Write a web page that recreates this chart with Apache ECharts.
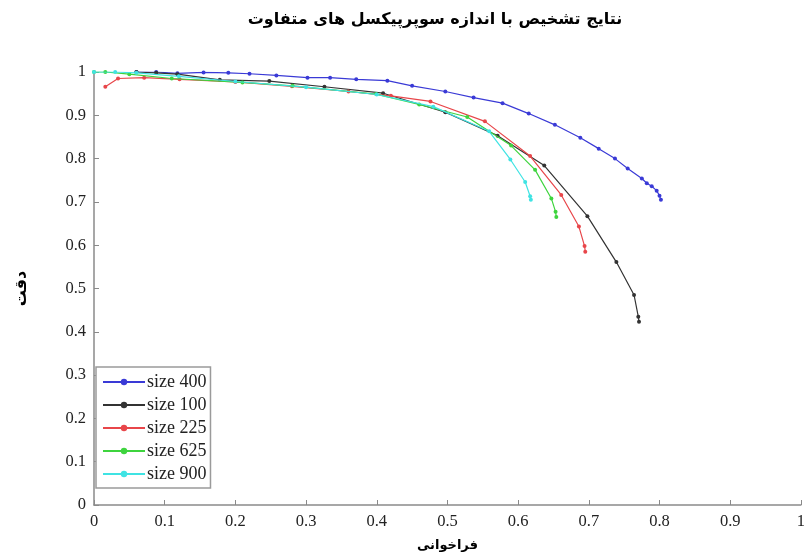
<!DOCTYPE html>
<html>
<head>
<meta charset="utf-8">
<script src="https://cdn.jsdelivr.net/npm/echarts@6/dist/echarts.min.js"></script>
<style>html,body{margin:0;padding:0;background:#fff;}#c{width:808px;height:557px;}</style>
</head>
<body>
<div id="c"></div>
<script>
var seriesNames = ['size 400', 'size 100', 'size 225', 'size 625', 'size 900'];
var xTicks = ['0','0.1','0.2','0.3','0.4','0.5','0.6','0.7','0.8','0.9','1'];

var size400X = [0.06,0.088,0.118,0.155,0.19,0.22,0.258,0.302,0.334,0.371,0.415,0.45,0.497,0.537,0.578,0.615,0.652,0.688,0.714,0.737,0.755,0.775,0.782,0.789,0.796,0.80,0.802];
var size400Y = [1.0,1.0,0.997,0.999,0.998,0.996,0.992,0.987,0.987,0.983,0.98,0.968,0.955,0.941,0.928,0.904,0.878,0.848,0.823,0.80,0.777,0.754,0.743,0.736,0.726,0.714,0.705];

var size100X = [0.06,0.088,0.118,0.178,0.248,0.326,0.409,0.497,0.571,0.637,0.698,0.739,0.764,0.770,0.771];
var size100Y = [1.0,0.998,0.995,0.982,0.979,0.966,0.951,0.907,0.853,0.784,0.667,0.561,0.485,0.435,0.423];

var size225X = [0.016,0.034,0.071,0.121,0.2,0.28,0.36,0.42,0.476,0.553,0.617,0.661,0.686,0.694,0.695];
var size225Y = [0.966,0.985,0.987,0.983,0.977,0.967,0.955,0.945,0.932,0.886,0.806,0.716,0.643,0.598,0.585];

var size625X = [0.0,0.016,0.05,0.11,0.21,0.281,0.399,0.46,0.528,0.59,0.624,0.647,0.653,0.654];
var size625Y = [1.0,1.0,0.995,0.985,0.976,0.968,0.949,0.925,0.896,0.83,0.774,0.708,0.677,0.665];

var size900X = [0.0,0.03,0.06,0.12,0.2,0.3,0.4,0.48,0.559,0.589,0.61,0.617,0.618];
var size900Y = [1.0,1.0,0.998,0.99,0.978,0.965,0.948,0.92,0.863,0.798,0.746,0.713,0.705];

var colors = ['#3a3ad6', '#333333', '#e8464a', '#3ed43e', '#3fe3e3'];

function pairs(xs, ys) { return xs.map(function (x, i) { return [x, ys[i]]; }); }
var allX = [size400X, size100X, size225X, size625X, size900X];
var allY = [size400Y, size100Y, size225Y, size625Y, size900Y];

var chart = echarts.init(document.getElementById('c'), null, { renderer: 'canvas' });
var serif = 'Liberation Serif';
var axisCommon = {
  type: 'value', min: 0, max: 1, interval: 0.1,
  axisLine: { show: true, lineStyle: { color: '#8a8a8a', width: 1.5 } },
  axisTick: { show: true, inside: true, length: 5, lineStyle: { color: '#8a8a8a' } },
  splitLine: { show: false },
  axisLabel: { color: '#222', fontFamily: serif, fontSize: 16.5 }
};
chart.setOption({
  animation: false,
  backgroundColor: '#fff',
  title: {
    text: 'نتایج تشخیص با اندازه سوپرپیکسل های متفاوت',
    left: 430, top: 7, textAlign: 'center',
    textStyle: { fontFamily: 'DejaVu Sans', fontWeight: 'bold', fontSize: 16, color: '#000' }
  },
  grid: { left: 94, right: 5, top: 72, bottom: 49, containLabel: false },
  legend: {
    orient: 'vertical', left: 96, top: 367,
    data: seriesNames,
    itemWidth: 42, itemHeight: 8, itemGap: 5,
    padding: [6, 4, 5, 6],
    borderColor: '#9a9a9a', borderWidth: 1.5, backgroundColor: '#fff',
    textStyle: { fontFamily: serif, fontSize: 18, color: '#222', padding: [0, 0, 0, -3] }
  },
  xAxis: Object.assign({}, axisCommon, {
    name: 'فراخوانی', nameLocation: 'middle', nameGap: 34,
    nameTextStyle: { fontFamily: 'DejaVu Sans', fontWeight: 'bold', fontSize: 13, color: '#000' },
    axisLabel: Object.assign({}, axisCommon.axisLabel, { margin: 8, formatter: function (v) { return xTicks[Math.round(v * 10)]; } })
  }),
  yAxis: Object.assign({}, axisCommon, {
    name: 'دقت', nameLocation: 'middle', nameGap: 64, nameRotate: 90,
    nameTextStyle: { fontFamily: 'DejaVu Sans', fontWeight: 'bold', fontSize: 16, color: '#000' },
    axisLabel: Object.assign({}, axisCommon.axisLabel, { margin: 8 })
  }),
  series: seriesNames.map(function (n, i) {
    return {
      name: n, type: 'line', data: pairs(allX[i], allY[i]),
      symbol: 'circle', symbolSize: 4, showSymbol: true,
      lineStyle: { color: colors[i], width: 1.2 },
      itemStyle: { color: colors[i] },
      z: 2 + i
    };
  })
});
</script>
</body>
</html>
